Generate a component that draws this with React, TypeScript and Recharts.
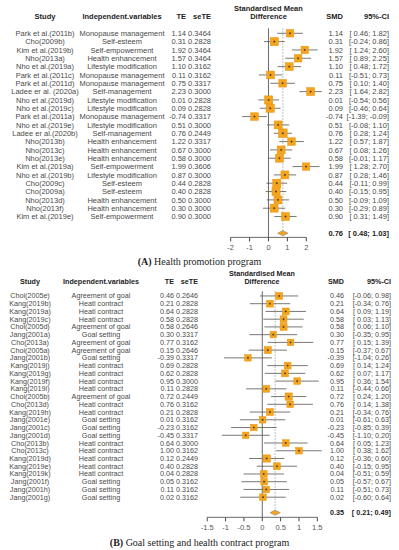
import {
    ErrorBar,
    ReferenceLine,
    Scatter,
    ScatterChart,
    XAxis,
    YAxis,
} from "recharts";

// (A) Health promotion program
const studiesA = [
    "Park et al.(2011b)", "Cho(2009b)", "Kim et al.(2019b)", "Nho(2013a)",
    "Nho et al.(2019a)", "Park et al.(2011c)", "Park et al.(2011d)", "Ladee er al. (2020a)",
    "Nho et al.(2019d)", "Nho et al.(2019c)", "Park et al.(2011a)", "Nho et al.(2019e)",
    "Ladee er al.(2020b)", "Nho(2013b)", "Nho(2013c)", "Nho(2013e)",
    "Kim et al.(2019a)", "Nho et al.(2019b)", "Cho(2009c)", "Cho(2009a)",
    "Nho(2013d)", "Nho(2013f)", "Kim et al.(2019e)",
];
const variablesA = [
    "Monopause management", "Self-esteem", "Self-empowerment", "Health enhancement",
    "Lifestyle modification", "Monopause management", "Monopause management", "Self-management",
    "Lifestyle modification", "Lifestyle modification", "Monopause management", "Lifestyle modification",
    "Self-management", "Health enhancement", "Health enhancement", "Health enhancement",
    "Self-empowerment", "Lifestyle modification", "Self-esteem", "Self-esteem",
    "Health enhancement", "Health enhancement", "Self-empowerment",
];
const teA = [1.14, 0.31, 1.92, 1.57, 1.10, 0.11, 0.75, 2.23, 0.01, 0.09, -0.74, 0.51, 0.76, 1.22, 0.67, 0.58, 1.99, 0.87, 0.44, 0.40, 0.50, 0.30, 0.90];
const seA = [0.3464, 0.2828, 0.3464, 0.3464, 0.3162, 0.3162, 0.3317, 0.3000, 0.2828, 0.2828, 0.3317, 0.3000, 0.2449, 0.3317, 0.3000, 0.3000, 0.3606, 0.3000, 0.2828, 0.2828, 0.3000, 0.3000, 0.3000];
const lowerA = [0.46, -0.24, 1.24, 0.89, 0.48, -0.51, 0.10, 1.64, -0.54, -0.46, -1.39, -0.08, 0.28, 0.57, 0.08, -0.01, 1.28, 0.28, -0.11, -0.15, -0.09, -0.29, 0.31];
const upperA = [1.82, 0.86, 2.60, 2.25, 1.72, 0.73, 1.40, 2.82, 0.56, 0.64, -0.09, 1.10, 1.24, 1.87, 1.26, 1.17, 2.70, 1.46, 0.99, 0.95, 1.09, 0.89, 1.49];
const pooledA = [0.76, 0.48, 1.03]; // estimate, lower, upper
const axisTicksA = [-2, -1, 0, 1, 2];

// (B) Goal setting and health contract program
const studiesB = [
    "Choi(2005e)", "Kang(2019b)", "Kang(2019a)", "Kang(2019c)", "Choi(2005d)",
    "Jang(2001a)", "Cho(2013a)", "Choi(2005a)", "Jang(2001b)", "Kang(2019j)",
    "Kang(2019g)", "Kang(2019f)", "Kang(2019i)", "Choi(2005b)", "Cho(2013d)",
    "Kang(2019h)", "Jang(2001e)", "Jang(2001c)", "Jang(2001d)", "Cho(2013b)",
    "Cho(2013c)", "Kang(2019d)", "Kang(2019e)", "Kang(2019k)", "Jang(2001f)",
    "Jang(2001h)", "Jang(2001g)",
];
const variablesB = [
    "Agreement of goal", "Heatl contract", "Heatl contract", "Heatl contract", "Agreement of goal",
    "Goal setting", "Agreement of goal", "Agreement of goal", "Goal setting", "Heatl contract",
    "Heatl contract", "Heatl contract", "Heatl contract", "Agreement of goal", "Heatl contract",
    "Heatl contract", "Goal setting", "Goal setting", "Goal setting", "Heatl contract",
    "Heatl contract", "Heatl contract", "Heatl contract", "Heatl contract", "Goal setting",
    "Goal setting", "Goal setting",
];
const teB = [0.46, 0.21, 0.64, 0.58, 0.58, 0.30, 0.77, 0.15, -0.39, 0.69, 0.62, 0.95, 0.11, 0.72, 0.76, 0.21, 0.01, -0.23, -0.45, 0.64, 1.00, 0.12, 0.40, 0.04, 0.05, 0.11, 0.02];
const seB = [0.2646, 0.2828, 0.2828, 0.2828, 0.2646, 0.3317, 0.3162, 0.2646, 0.3317, 0.2828, 0.2828, 0.3000, 0.2828, 0.2449, 0.3162, 0.2828, 0.3162, 0.3162, 0.3317, 0.3000, 0.3162, 0.2449, 0.2828, 0.2828, 0.3162, 0.3162, 0.3162];
const lowerB = [-0.06, -0.34, 0.09, 0.03, 0.06, -0.35, 0.15, -0.37, -1.04, 0.14, 0.07, 0.36, -0.44, 0.24, 0.14, -0.34, -0.61, -0.85, -1.10, 0.05, 0.38, -0.36, -0.15, -0.51, -0.57, -0.51, -0.60];
const upperB = [0.98, 0.76, 1.19, 1.13, 1.10, 0.95, 1.39, 0.67, 0.26, 1.24, 1.17, 1.54, 0.66, 1.20, 1.38, 0.76, 0.63, 0.39, 0.20, 1.23, 1.62, 0.60, 0.95, 0.59, 0.67, 0.73, 0.64];
const pooledB = [0.35, 0.21, 0.49];
const axisTicksB = [-1.5, -1, -0.5, 0, 0.5, 1, 1.5];

const SANS = "'Liberation Sans', Arial, Helvetica, sans-serif";
const SERIF = "'Liberation Serif', 'Times New Roman', serif";
const ORANGE = "#F7A41D";
const TEXT = "#4a4a4a";
const HEAD = "#222";

interface PanelSpec {
    studies: string[];
    variables: string[];
    te: number[];
    se: number[];
    lower: number[];
    upper: number[];
    pooled: number[];
    axisTicks: number[];
    // layout only
    top: number;
    marginTop: number;
    rowPx: number;
    titleRow: number;
    headerRow: number;
    axisRow: number;
    xDomain: [number, number];
    fontSize: number;
    square: [number, number];
    cols: {
        study: number;
        variable: number;
        te: number;
        se: number;
        plot: number;
        smd: number;
        ci: number;
    };
}

const fmt = (v: number) => v.toFixed(2);
const fmtCi = (lo: number, hi: number) =>
    `[${lo < 0 ? fmt(lo) : " " + fmt(lo)}; ${fmt(hi)}]`;

function ForestPanel({ spec }: { spec: PanelSpec }) {
    const rows = spec.studies.map((study, i) => ({
        study,
        variable: spec.variables[i],
        te: spec.te[i],
        se: spec.se[i],
        lower: spec.lower[i],
        upper: spec.upper[i],
        x: spec.te[i],
        y: i + 1,
        err: [spec.te[i] - spec.lower[i], spec.upper[i] - spec.te[i]],
    }));
    const summaryRow = rows.length + 2;
    const [est, lo, hi] = spec.pooled;
    const diamondH = 2.6 / spec.rowPx;
    const diamond = [
        { x: lo, y: summaryRow },
        { x: est, y: summaryRow - diamondH },
        { x: hi, y: summaryRow },
        { x: est, y: summaryRow + diamondH },
    ];
    const rowTicks = [spec.titleRow, spec.headerRow, ...rows.map((r) => r.y), summaryRow];
    const rowByY = new Map(rows.map((r) => [r.y, r]));
    const c = spec.cols;
    const fs = spec.fontSize;
    const plotHeight = (spec.axisRow - spec.titleRow) * spec.rowPx;
    const xAxisHeight = 18;
    const height = spec.marginTop + plotHeight + xAxisHeight;

    const base = { fontFamily: SANS, fontSize: fs, dy: "0.35em" };
    const head = { ...base, fill: HEAD, fontWeight: 700 };
    const cell = { ...base, fill: TEXT };

    const renderRow = (props: any) => {
        const { y, payload } = props;
        const v = payload.value;
        if (v === spec.titleRow) {
            return (
                <g>
                    <text {...head} x={c.plot} y={y} textAnchor="middle">
                        Standardised Mean
                    </text>
                </g>
            );
        }
        if (v === spec.headerRow) {
            return (
                <g>
                    <text {...head} x={c.study} y={y} textAnchor="middle">Study</text>
                    <text {...head} x={c.variable} y={y} textAnchor="middle">Independent.variables</text>
                    <text {...head} x={c.te} y={y} textAnchor="end">TE</text>
                    <text {...head} x={c.se} y={y} textAnchor="end">seTE</text>
                    <text {...head} x={c.plot} y={y} textAnchor="middle">Difference</text>
                    <text {...head} x={c.smd} y={y} textAnchor="end">SMD</text>
                    <text {...head} x={c.ci} y={y} textAnchor="end">95%-CI</text>
                </g>
            );
        }
        if (v === summaryRow) {
            return (
                <g>
                    <text {...head} x={c.smd} y={y} textAnchor="end">{fmt(est)}</text>
                    <text {...head} x={c.ci} y={y} textAnchor="end" style={{ whiteSpace: "pre" }}>
                        {fmtCi(lo, hi)}
                    </text>
                </g>
            );
        }
        const r = rowByY.get(v);
        if (!r) return <g />;
        return (
            <g>
                <text {...cell} x={c.study} y={y} textAnchor="middle">{r.study}</text>
                <text {...cell} x={c.variable} y={y} textAnchor="middle">{r.variable}</text>
                <text {...cell} x={c.te} y={y} textAnchor="end">{fmt(r.te)}</text>
                <text {...cell} x={c.se} y={y} textAnchor="end">{r.se.toFixed(4)}</text>
                <text {...cell} x={c.smd} y={y} textAnchor="end">{fmt(r.te)}</text>
                <text {...cell} x={c.ci} y={y} textAnchor="end" style={{ whiteSpace: "pre" }}>
                    {fmtCi(r.lower, r.upper)}
                </text>
            </g>
        );
    };

    const renderSquare = (props: any) => {
        const { cx, cy, payload } = props;
        const side = spec.square[0] + spec.square[1] / payload.se;
        return (
            <g>
                <rect
                    x={cx - side / 2}
                    y={cy - side / 2}
                    width={side}
                    height={side}
                    fill={ORANGE}
                    stroke="#e39410"
                    strokeWidth={0.5}
                />
                <line x1={cx - 1} x2={cx + 1} y1={cy} y2={cy} stroke="#333" strokeWidth={0.8} />
                <line x1={cx} x2={cx} y1={cy - 1} y2={cy + 1} stroke="#333" strokeWidth={0.8} />
            </g>
        );
    };

    const lastTick = spec.axisTicks[spec.axisTicks.length - 1];

    return (
        <div style={{ position: "absolute", left: 0, top: spec.top }}>
            <ScatterChart
                width={399}
                height={height}
                margin={{ top: spec.marginTop, right: 2, bottom: 0, left: 1 }}
            >
                <XAxis
                    type="number"
                    dataKey="x"
                    domain={spec.xDomain}
                    allowDataOverflow
                    ticks={spec.axisTicks}
                    interval={0}
                    axisLine={false}
                    tickSize={4}
                    tickMargin={3}
                    height={xAxisHeight}
                    tickLine={{ stroke: "#444" }}
                    tick={{ fontSize: 7.5, fill: "#555", fontFamily: SANS }}
                />
                <YAxis
                    type="number"
                    dataKey="y"
                    reversed
                    domain={[spec.titleRow, spec.axisRow]}
                    allowDataOverflow
                    ticks={rowTicks}
                    interval={0}
                    width={1}
                    axisLine={false}
                    tickLine={false}
                    tick={renderRow}
                />
                <ReferenceLine
                    segment={[
                        { x: spec.axisTicks[0], y: spec.axisRow },
                        { x: lastTick, y: spec.axisRow },
                    ]}
                    stroke="#444"
                    strokeWidth={0.8}
                />
                <ReferenceLine
                    segment={[
                        { x: 0, y: 0.4 },
                        { x: 0, y: spec.axisRow },
                    ]}
                    stroke="#444"
                    strokeWidth={0.8}
                />
                <ReferenceLine
                    segment={[
                        { x: est, y: 0.4 },
                        { x: est, y: summaryRow },
                    ]}
                    stroke="#999"
                    strokeWidth={0.8}
                    strokeDasharray="1.5 1.5"
                />
                <Scatter
                    data={rows}
                    shape={renderSquare}
                    isAnimationActive={false}
                >
                    <ErrorBar
                        dataKey="err"
                        direction="x"
                        width={0}
                        stroke="#555"
                        strokeWidth={0.8}
                        isAnimationActive={false}
                    />
                </Scatter>
                <Scatter
                    data={diamond}
                    isAnimationActive={false}
                    shape={() => <g />}
                    line={(p: any) => (
                        <polygon
                            points={p.points.map((pt: any) => `${pt.x},${pt.y}`).join(" ")}
                            fill={ORANGE}
                            stroke="#888"
                            strokeWidth={0.6}
                        />
                    )}
                />
            </ScatterChart>
        </div>
    );
}

const panelA: PanelSpec = {
    studies: studiesA,
    variables: variablesA,
    te: teA,
    se: seA,
    lower: lowerA,
    upper: upperA,
    pooled: pooledA,
    axisTicks: axisTicksA,
    top: 0,
    marginTop: 8.3,
    rowPx: 8.33,
    titleRow: -2,
    headerRow: -1,
    axisRow: 25.5,
    xDomain: [-14.1, 6.8],
    fontSize: 7.5,
    square: [4.6, 1.0],
    cols: { study: 45, variable: 122, te: 186, se: 211, plot: 268.5, smd: 343, ci: 389 },
};

const panelB: PanelSpec = {
    studies: studiesB,
    variables: variablesB,
    te: teB,
    se: seB,
    lower: lowerB,
    upper: upperB,
    pooled: pooledB,
    axisTicks: axisTicksB,
    top: 266,
    marginTop: 7.9,
    rowPx: 7.74,
    titleRow: -1.85,
    headerRow: -0.85,
    axisRow: 29.6,
    xDomain: [-7.09, 3.67],
    fontSize: 7.2,
    square: [4.0, 0.8],
    cols: { study: 30, variable: 101, te: 174, se: 198, plot: 262, smd: 344, ci: 391 },
};

function Caption({ top, label, text }: { top: number; label: string; text: string }) {
    return (
        <div
            style={{
                position: "absolute",
                left: 0,
                top,
                width: 399,
                textAlign: "center",
                fontFamily: SERIF,
                fontSize: 10,
                lineHeight: "12px",
                color: "#222",
            }}
        >
            <b>{label}</b> {text}
        </div>
    );
}

export default function App() {
    return (
        <div
            style={{
                position: "absolute",
                left: 0,
                top: 0,
                width: 399,
                height: 550,
                background: "#fff",
                overflow: "hidden",
            }}
        >
            <ForestPanel spec={panelA} />
            <Caption top={256} label="(A)" text="Health promotion program" />
            <ForestPanel spec={panelB} />
            <Caption top={537} label="(B)" text="Goal setting and health contract program" />
        </div>
    );
}
